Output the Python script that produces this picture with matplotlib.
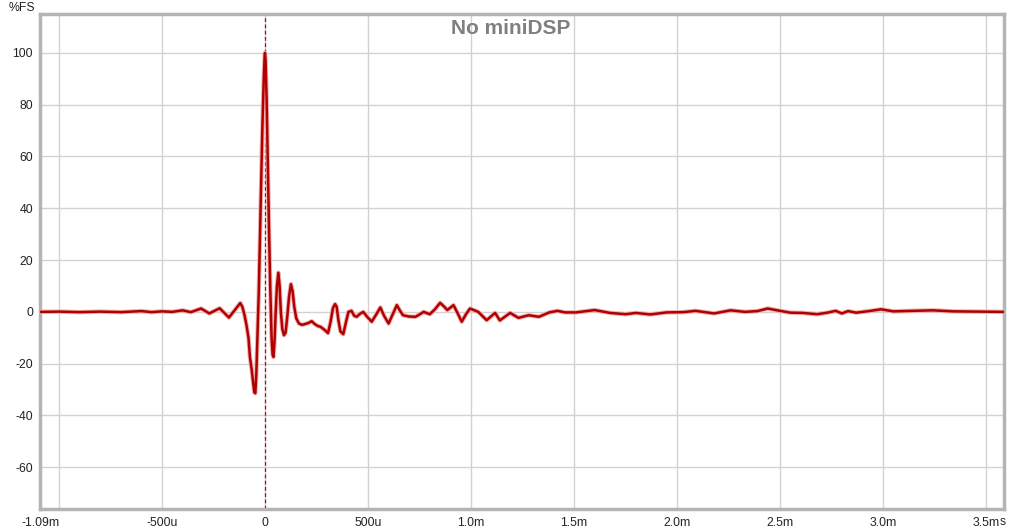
import matplotlib
matplotlib.use('Agg')
import matplotlib.pyplot as plt
import numpy as np

# impulse response, time in ms, level in %FS
time_ms = [
    -1.09, -1.00, -0.90, -0.80, -0.70, -0.60, -0.55, -0.50, -0.45, -0.40,
    -0.36, -0.31, -0.27, -0.22, -0.175, -0.12, -0.110, -0.100, -0.090, -0.080,
    -0.073, -0.065, -0.058, -0.052, -0.047, -0.042, -0.036, -0.030, -0.024, -0.018,
    -0.012, -0.006, -0.002, 0.000, 0.003, 0.008, 0.014, 0.020, 0.026, 0.032,
    0.037, 0.041, 0.046, 0.052, 0.058, 0.065, 0.071, 0.077, 0.084, 0.092,
    0.100, 0.108, 0.117, 0.126, 0.134, 0.142, 0.152, 0.165, 0.180, 0.194,
    0.210, 0.227, 0.240, 0.255, 0.270, 0.290, 0.306, 0.318, 0.330, 0.340,
    0.348, 0.356, 0.366, 0.380, 0.393, 0.405, 0.420, 0.433, 0.445, 0.460,
    0.477, 0.497, 0.518, 0.540, 0.560, 0.578, 0.600, 0.620, 0.640, 0.655,
    0.670, 0.700, 0.730, 0.750, 0.770, 0.800, 0.825, 0.850, 0.870, 0.885,
    0.915, 0.935, 0.955, 0.975, 0.995, 1.035, 1.076, 1.117, 1.140, 1.190,
    1.230, 1.280, 1.330, 1.380, 1.420, 1.456, 1.510, 1.600, 1.675, 1.750,
    1.800, 1.870, 1.950, 2.030, 2.090, 2.180, 2.260, 2.330, 2.390, 2.440,
    2.500, 2.550, 2.610, 2.680, 2.730, 2.770, 2.800, 2.830, 2.870, 2.940,
    2.990, 3.050, 3.150, 3.240, 3.340, 3.470, 3.590,
]
level_pct = [
    0.0, 0.1, -0.1, 0.1, -0.1, 0.3, -0.1, 0.2, 0.0, 0.6,
    -0.1, 1.3, -0.6, 1.4, -2.2, 3.4, 2.0, -1.0, -5.0, -10.0,
    -17.5, -22.0, -27.0, -31.0, -31.4, -24.0, -8.0, 8.0, 31.0, 52.0,
    73.0, 90.0, 98.0, 100.0, 97.0, 82.0, 55.0, 30.0, 8.0, -10.0,
    -16.5, -17.4, -12.0, 0.0, 10.0, 15.1, 10.0, 0.0, -6.5, -9.0,
    -8.0, -2.0, 6.0, 10.7, 8.0, 2.0, -2.5, -4.5, -5.0, -4.7,
    -4.3, -3.6, -4.6, -5.4, -5.8, -7.0, -8.2, -4.0, 1.5, 3.0,
    2.0, -3.0, -7.5, -8.6, -4.0, 0.0, 0.4, -1.5, -1.9, -0.8,
    0.0, -2.0, -3.8, -1.0, 1.7, -1.5, -4.5, -1.0, 2.6, 0.5,
    -1.3, -1.8, -1.9, -1.0, 0.0, -0.9, 1.0, 3.5, 2.0, 0.7,
    2.6, -0.5, -3.8, -1.0, 1.3, 0.0, -3.2, -0.4, -3.3, -0.4,
    -2.3, -1.3, -1.9, -0.2, 0.4, -0.2, -0.2, 0.7, -0.4, -0.9,
    -0.4, -1.0, -0.2, -0.1, 0.4, -0.6, 0.6, 0.0, 0.3, 1.3,
    0.4, -0.3, -0.4, -0.9, -0.3, 0.4, -0.6, 0.3, -0.3, 0.4,
    1.0, 0.2, 0.4, 0.6, 0.2, 0.1, 0.0,
]

x_ticks = [-1.09, -0.5, 0.0, 0.5, 1.0, 1.5, 2.0, 2.5, 3.0, 3.5]
x_labels = ['-1.09m', '-500u', '0', '500u', '1.0m', '1.5m', '2.0m', '2.5m', '3.0m', '3.5m']
y_ticks = [-60, -40, -20, 0, 20, 40, 60, 80, 100]

plt.rcParams['font.family'] = ['Liberation Sans', 'DejaVu Sans']
plt.rcParams['axes.unicode_minus'] = False

fig = plt.figure(figsize=(10.24, 5.31), dpi=100)
ax = fig.add_axes([40 / 1024, 1 - 509 / 531, 964 / 1024, 495 / 531])

ax.set_xlim(-1.092, 3.587)
ax.set_ylim(-76.1, 115.0)

ax.set_xticks(x_ticks)
ax.set_xticklabels(x_labels)
ax.set_xticks([-1.0], minor=True)
ax.set_yticks(y_ticks)
ax.grid(True, which='both', color='#d2d2d2', linewidth=1.0)
ax.set_axisbelow(True)
ax.tick_params(which='both', length=0, labelsize=8.8, colors='#222222')
ax.tick_params(axis='x', pad=6)
ax.tick_params(axis='y', pad=5)

for sp in ax.spines.values():
    sp.set_color('#b4b4b4')
    sp.set_linewidth(2.5)

ax.axvline(0.0, color='#cc0000', linewidth=0.9, linestyle=(0, (3, 2)), zorder=2)
ax.plot(time_ms, level_pct, color='#f0b0b0', linewidth=3.2, zorder=3,
        solid_joinstyle='round', solid_capstyle='round')
ax.plot(time_ms, level_pct, color='#b00000', linewidth=1.8, zorder=4,
        solid_joinstyle='round', solid_capstyle='round')

fig.text(511 / 1024, 1 - 28 / 531, 'No miniDSP', fontsize=15, fontweight='bold',
         color='#808080', ha='center', va='center')
fig.text(22 / 1024, 1 - 8 / 531, '%FS', fontsize=8.8, color='#222222',
         ha='center', va='center')
fig.text(1000 / 1024, 1 - 525 / 531, 's', fontsize=8.8, color='#222222',
         ha='left', va='baseline')

fig.savefig('out.png', dpi=100, facecolor='white')
